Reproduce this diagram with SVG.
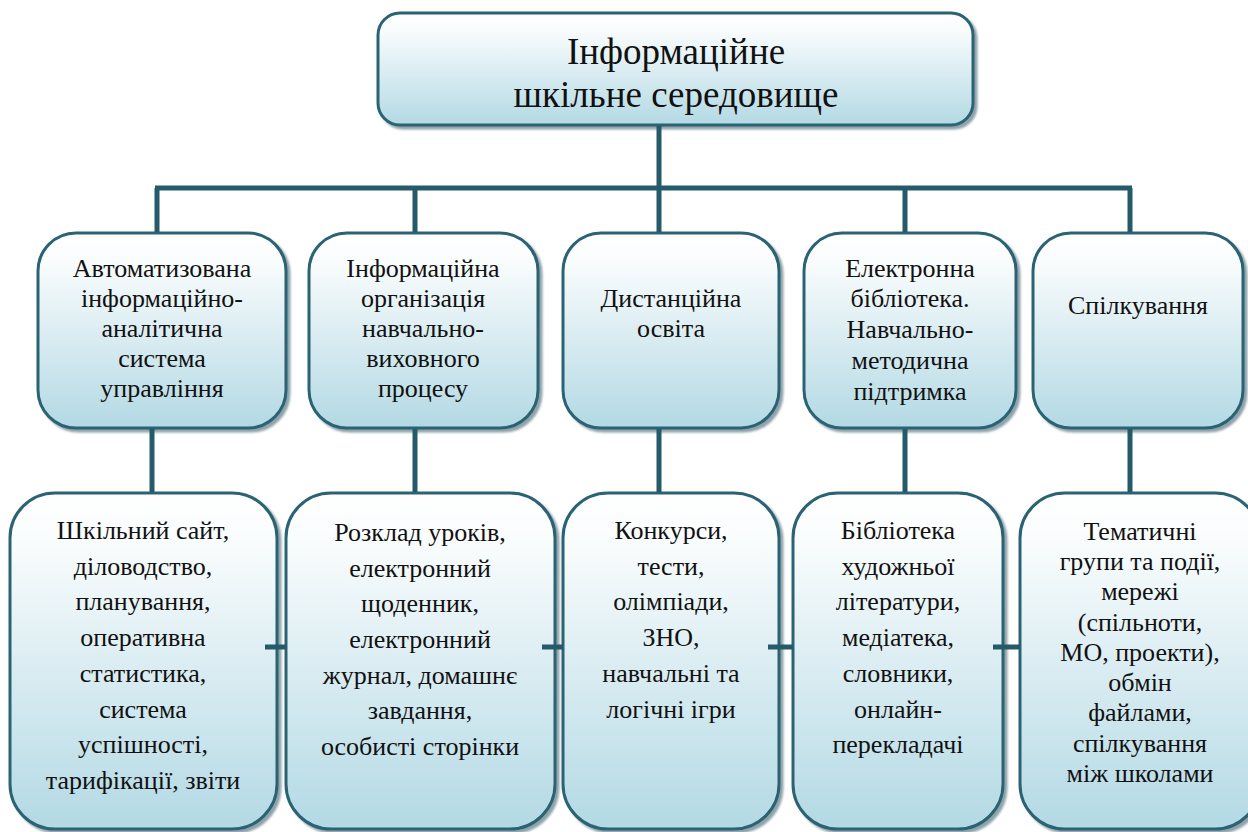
<svg xmlns="http://www.w3.org/2000/svg" width="1248" height="832" viewBox="0 0 1248 832" font-family="Liberation Serif, DejaVu Serif, serif">
<style>
.box{fill:url(#g);stroke:#2b6373;stroke-width:3;filter:url(#sh)}
.t{fill:#111;text-anchor:middle}
.title{font-size:37px}
.mid{font-size:26px}
.bot{font-size:26px}
.c{stroke:#245a69;stroke-width:5;fill:none}
</style>
<defs>
<linearGradient id="g" x1="0" y1="0" x2="0" y2="1">
<stop offset="0" stop-color="#ffffff"/>
<stop offset="0.15" stop-color="#f9fcfd"/>
<stop offset="1" stop-color="#b3d9e4"/>
</linearGradient>
<filter id="sh" x="-5%" y="-5%" width="115%" height="115%">
<feDropShadow dx="3" dy="3" stdDeviation="1.2" flood-color="#5d7a85" flood-opacity="0.7"/>
</filter>
</defs>
<rect width="1248" height="832" fill="#ffffff"/>

<g id="root">
<rect class="box" x="378" y="13" width="595" height="112" rx="22"/>
<text class="t title" x="676" y="64">Інформаційне</text>
<text class="t title" x="676" y="107">шкільне середовище</text>
</g>

<g id="m1">
<rect class="box" x="38" y="233" width="248" height="195" rx="38"/>
<text class="t mid" x="162" y="277">Автоматизована</text>
<text class="t mid" x="162" y="307">інформаційно-</text>
<text class="t mid" x="162" y="337">аналітична</text>
<text class="t mid" x="162" y="367">система</text>
<text class="t mid" x="162" y="397">управління</text>
</g>
<g id="m2">
<rect class="box" x="309" y="233" width="229" height="195" rx="38"/>
<text class="t mid" x="423" y="277">Інформаційна</text>
<text class="t mid" x="423" y="307">організація</text>
<text class="t mid" x="423" y="337">навчально-</text>
<text class="t mid" x="423" y="367">виховного</text>
<text class="t mid" x="423" y="397">процесу</text>
</g>
<g id="m3">
<rect class="box" x="563" y="233" width="216" height="195" rx="38"/>
<text class="t mid" x="671" y="307">Дистанційна</text>
<text class="t mid" x="671" y="337">освіта</text>
</g>
<g id="m4">
<rect class="box" x="804" y="233" width="212" height="195" rx="38"/>
<text class="t mid" x="910" y="277">Електронна</text>
<text class="t mid" x="910" y="307">бібліотека.</text>
<text class="t mid" x="910" y="338">Навчально-</text>
<text class="t mid" x="910" y="369">методична</text>
<text class="t mid" x="910" y="400">підтримка</text>
</g>
<g id="m5">
<rect class="box" x="1033" y="233" width="210" height="195" rx="38"/>
<text class="t mid" x="1138" y="314">Спілкування</text>
</g>

<g id="b1">
<rect class="box" x="10" y="493" width="267" height="336" rx="45"/>
<text class="t bot" x="143" y="539">Шкільний сайт,</text>
<text class="t bot" x="143" y="575">діловодство,</text>
<text class="t bot" x="143" y="610">планування,</text>
<text class="t bot" x="143" y="646">оперативна</text>
<text class="t bot" x="143" y="682">статистика,</text>
<text class="t bot" x="143" y="718">система</text>
<text class="t bot" x="143" y="753">успішності,</text>
<text class="t bot" x="143" y="789">тарифікації, звіти</text>
</g>
<g id="b2">
<rect class="box" x="286" y="493" width="269" height="336" rx="45"/>
<text class="t bot" x="420" y="541">Розклад уроків,</text>
<text class="t bot" x="420" y="577">електронний</text>
<text class="t bot" x="420" y="612">щоденник,</text>
<text class="t bot" x="420" y="648">електронний</text>
<text class="t bot" x="420" y="684">журнал, домашнє</text>
<text class="t bot" x="420" y="719">завдання,</text>
<text class="t bot" x="420" y="755">особисті сторінки</text>
</g>
<g id="b3">
<rect class="box" x="563" y="493" width="216" height="336" rx="45"/>
<text class="t bot" x="671" y="539">Конкурси,</text>
<text class="t bot" x="671" y="575">тести,</text>
<text class="t bot" x="671" y="610">олімпіади,</text>
<text class="t bot" x="671" y="646">ЗНО,</text>
<text class="t bot" x="671" y="682">навчальні та</text>
<text class="t bot" x="671" y="718">логічні ігри</text>
</g>
<g id="b4">
<rect class="box" x="793" y="493" width="210" height="336" rx="45"/>
<text class="t bot" x="898" y="539">Бібліотека</text>
<text class="t bot" x="898" y="575">художньої</text>
<text class="t bot" x="898" y="610">літератури,</text>
<text class="t bot" x="898" y="646">медіатека,</text>
<text class="t bot" x="898" y="682">словники,</text>
<text class="t bot" x="898" y="718">онлайн-</text>
<text class="t bot" x="898" y="753">перекладачі</text>
</g>
<g id="b5">
<rect class="box" x="1020" y="493" width="240" height="336" rx="45"/>
<text class="t bot" x="1140" y="540">Тематичні</text>
<text class="t bot" x="1140" y="570">групи та події,</text>
<text class="t bot" x="1140" y="600">мережі</text>
<text class="t bot" x="1140" y="631">(спільноти,</text>
<text class="t bot" x="1140" y="661">МО, проекти),</text>
<text class="t bot" x="1140" y="691">обмін</text>
<text class="t bot" x="1140" y="721">файлами,</text>
<text class="t bot" x="1140" y="752">спілкування</text>
<text class="t bot" x="1140" y="782">між школами</text>
</g>

<g id="connectors">
<path class="c" d="M659 126V188M155 188H1132M157 188V232M415 188V232M659 188V232M905 188V232M1130 188V232"/>
<path class="c" d="M152 429V492M415 429V492M659 429V492M905 429V492M1130 429V492"/>
<path class="c" d="M265 647H286M542 647H563M768 647H793M993 647H1020"/>
</g>
</svg>
